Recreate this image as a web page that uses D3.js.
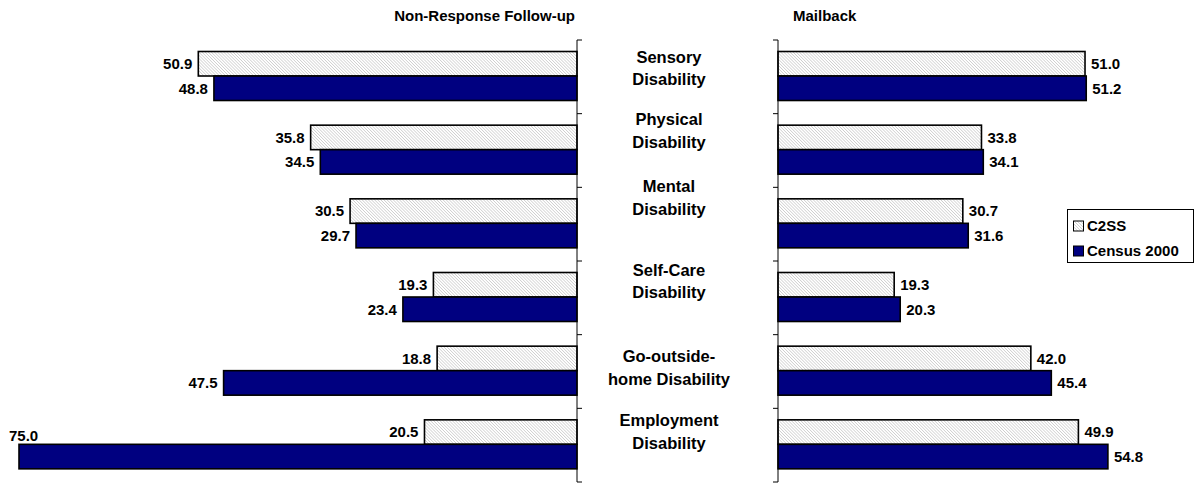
<!DOCTYPE html>
<html>
<head>
<meta charset="utf-8">
<script src="https://cdn.jsdelivr.net/npm/d3@7"></script>
<style>
  html, body { margin: 0; padding: 0; background: #fff; }
  svg { display: block; }
  text { font-family: Arial, "Liberation Sans", sans-serif; font-weight: bold; fill: #000; }
</style>
</head>
<body>
<svg id="chart" width="1195" height="485"></svg>
<script>
// ---- data ----
const categories = [
  "Sensory\nDisability",
  "Physical\nDisability",
  "Mental\nDisability",
  "Self-Care\nDisability",
  "Go-outside-\nhome Disability",
  "Employment\nDisability"
];
const seriesNames = ["C2SS", "Census 2000"];
const nrfuC2SS   = [50.9, 35.8, 30.5, 19.3, 18.8, 20.5];
const nrfuCensus = [48.8, 34.5, 29.7, 23.4, 47.5, 75.0];
const mailC2SS   = [51.0, 33.8, 30.7, 19.3, 42.0, 49.9];
const mailCensus = [51.2, 34.1, 31.6, 20.3, 45.4, 54.8];
const panelTitles = ["Non-Response Follow-up", "Mailback"];

// ---- layout ----
const labelDy = [17, 6, -1, 9, 22, 12]; // first-line offset of category labels within band
const svg = d3.select("#chart");

const defs = svg.append("defs");
const pat = defs.append("pattern")
  .attr("id", "hatch").attr("patternUnits", "userSpaceOnUse")
  .attr("width", 2.2).attr("height", 2.2)
  .attr("patternTransform", "rotate(-45)");
pat.append("rect").attr("width", 2.2).attr("height", 2.2).attr("fill", "#ffffff");
pat.append("line").attr("x1", 0).attr("y1", 0).attr("x2", 0).attr("y2", 2.2)
  .attr("stroke", "#b0b0b0").attr("stroke-width", 0.9);

const fills = ["url(#hatch)", "#000080"];

const y = d3.scaleBand().domain(d3.range(categories.length)).range([40, 482]).padding(0);
const ySub = d3.scaleBand().domain([0, 1]).range([11.5, 60.5]).padding(0);

const xLeft = d3.scaleLinear().domain([0, 75]).range([577, 19]);
const xRight = d3.scaleLinear().domain([0, 60]).range([778, 1139.2]);

function panel(xs, series, side) {
  const g = svg.append("g");
  const rows = [];
  series.forEach((vals, si) => vals.forEach((v, ci) => rows.push({ v, si, ci })));
  g.selectAll("rect.bar").data(rows).join("rect")
    .attr("class", "bar")
    .attr("x", d => Math.min(xs(0), xs(d.v)))
    .attr("width", d => Math.abs(xs(d.v) - xs(0)))
    .attr("y", d => y(d.ci) + ySub(d.si))
    .attr("height", ySub.bandwidth())
    .attr("fill", d => fills[d.si])
    .attr("stroke", "#000").attr("stroke-width", 1.6);

  g.selectAll("text.val").data(rows).join("text")
    .attr("class", "val")
    .style("font-size", "15px")
    .each(function (d) {
      const t = d3.select(this).text(d.v.toFixed(1));
      const yc = y(d.ci) + ySub(d.si) + ySub.bandwidth() / 2;
      if (side === "left") {
        const xe = xs(d.v);
        if (xe - 45 < 0) {
          t.attr("x", xe - 10).attr("y", y(d.ci) + ySub(d.si) - 9).attr("dy", "0.35em")
           .attr("text-anchor", "start");
        } else {
          t.attr("x", xe - 6).attr("y", yc).attr("dy", "0.35em").attr("text-anchor", "end");
        }
      } else {
        t.attr("x", xs(d.v) + 6).attr("y", yc).attr("dy", "0.35em").attr("text-anchor", "start");
      }
    });

  // axis line and ticks at band boundaries
  const x0 = xs(0);
  g.append("line").attr("x1", x0).attr("x2", x0).attr("y1", 40).attr("y2", 482)
    .attr("stroke", "#000").attr("stroke-width", 1);
  const bounds = d3.range(categories.length + 1).map(i => i < categories.length ? y(i) : y.range()[1]);
  const tl = side === "left" ? 5 : -5;
  g.selectAll("line.tick").data(bounds).join("line")
    .attr("class", "tick")
    .attr("x1", x0).attr("x2", x0 + tl)
    .attr("y1", d => d).attr("y2", d => d)
    .attr("stroke", "#000").attr("stroke-width", 1);
}

panel(xLeft, [nrfuC2SS, nrfuCensus], "left");
panel(xRight, [mailC2SS, mailCensus], "right");

// panel titles
svg.append("text").attr("x", 575).attr("y", 21).attr("text-anchor", "end")
  .style("font-size", "15px").text(panelTitles[0]);
svg.append("text").attr("x", 793).attr("y", 21).attr("text-anchor", "start")
  .style("font-size", "15px").text(panelTitles[1]);

// category labels
categories.forEach((c, i) => {
  const lines = c.split("\n");
  const t = svg.append("text").attr("text-anchor", "middle").style("font-size", "16.5px");
  lines.forEach((ln, j) => {
    t.append("tspan").attr("x", 669).attr("y", y(i) + labelDy[i] + j * 22.5)
      .attr("dy", "0.35em").text(ln);
  });
});

// legend
const lg = svg.append("g");
lg.append("rect").attr("x", 1067.5).attr("y", 209.5).attr("width", 126).attr("height", 53)
  .attr("fill", "#fff").attr("stroke", "#000").attr("stroke-width", 1);
seriesNames.forEach((s, i) => {
  const cy = 226 + i * 25;
  lg.append("rect").attr("x", 1073.5).attr("y", cy - 5).attr("width", 10).attr("height", 10)
    .attr("fill", fills[i]).attr("stroke", "#000").attr("stroke-width", 1);
  lg.append("text").attr("x", 1087).attr("y", cy).attr("dy", "0.35em")
    .style("font-size", "15px").text(s);
});
</script>
</body>
</html>
